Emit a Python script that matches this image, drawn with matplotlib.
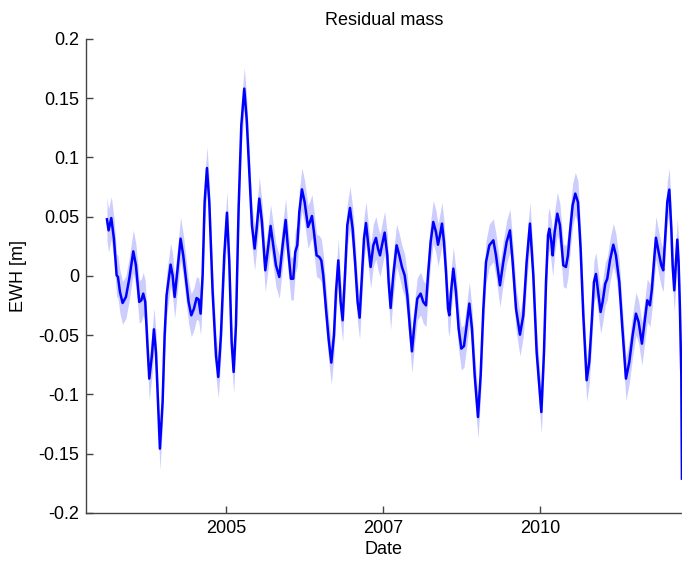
import matplotlib.pyplot as plt
import numpy as np

plt.rcParams['font.family'] = ['Liberation Sans', 'DejaVu Sans']

# residual mass series, decimal years and equivalent water height [m]
dates = [
    2003.108, 2003.134, 2003.177, 2003.219, 2003.262, 2003.283, 2003.315, 2003.357,
    2003.410, 2003.463, 2003.527, 2003.569, 2003.622, 2003.654, 2003.685, 2003.717,
    2003.749, 2003.781, 2003.823, 2003.855, 2003.887, 2003.919, 2003.950, 2003.993,
    2004.025, 2004.056, 2004.120, 2004.152, 2004.184, 2004.226, 2004.279, 2004.321,
    2004.364, 2004.406, 2004.449, 2004.491, 2004.533, 2004.565, 2004.597, 2004.629,
    2004.661, 2004.698, 2004.735, 2004.788, 2004.841, 2004.878, 2004.920, 2004.973,
    2005.016, 2005.053, 2005.090, 2005.122, 2005.159, 2005.201, 2005.244, 2005.291,
    2005.329, 2005.371, 2005.413, 2005.456, 2005.488, 2005.530, 2005.572, 2005.625,
    2005.668, 2005.710, 2005.752, 2005.795, 2005.848, 2005.901, 2005.949, 2005.986,
    2006.033, 2006.070, 2006.102, 2006.134, 2006.166, 2006.208, 2006.251, 2006.304,
    2006.335, 2006.367, 2006.399, 2006.441, 2006.484, 2006.516, 2006.547, 2006.590,
    2006.632, 2006.675, 2006.717, 2006.749, 2006.786, 2006.823, 2006.855, 2006.897,
    2006.929, 2006.972, 2007.014, 2007.056, 2007.093, 2007.125, 2007.162, 2007.194,
    2007.226, 2007.258, 2007.300, 2007.343, 2007.385, 2007.417, 2007.449, 2007.480,
    2007.523, 2007.565, 2007.586, 2007.618, 2007.660, 2007.713, 2007.756, 2007.798,
    2007.841, 2007.883, 2007.925, 2007.957, 2008.000, 2008.042, 2008.095, 2008.137,
    2008.180, 2008.212, 2008.254, 2008.296, 2008.339, 2008.371, 2008.402, 2008.434,
    2008.466, 2008.498, 2008.530, 2008.551, 2008.583, 2008.615, 2008.657, 2008.699,
    2008.742, 2008.784, 2008.827, 2008.869, 2008.911, 2008.954, 2009.007, 2009.049,
    2009.092, 2009.134, 2009.187, 2009.251, 2009.293, 2009.356, 2009.409, 2009.462,
    2009.515, 2009.558, 2009.611, 2009.674, 2009.727, 2009.780, 2009.833, 2009.886,
    2009.939, 2010.014, 2010.056, 2010.088, 2010.120, 2010.141, 2010.173, 2010.194,
    2010.226, 2010.268, 2010.310, 2010.363, 2010.405, 2010.437, 2010.469, 2010.511,
    2010.553, 2010.596, 2010.638, 2010.681, 2010.734, 2010.776, 2010.818, 2010.850,
    2010.882, 2010.924, 2010.956, 2010.988, 2011.030, 2011.062, 2011.105, 2011.158,
    2011.200, 2011.253, 2011.295, 2011.359, 2011.412, 2011.465, 2011.518, 2011.560,
    2011.613, 2011.656, 2011.698, 2011.740, 2011.772, 2011.804, 2011.836, 2011.878,
    2011.921, 2011.952, 2011.984, 2012.016, 2012.048, 2012.080, 2012.101, 2012.127,
    2012.154, 2012.175, 2012.196, 2012.217, 2012.239, 2012.249,
]
ewh = [
    0.0478, 0.0385, 0.0489, 0.0315, 0.0006, -0.0008, -0.0135, -0.0228,
    -0.0177, -0.0023, 0.0208, 0.0090, -0.0219, -0.0205, -0.0149, -0.0219,
    -0.0557, -0.0866, -0.0669, -0.0450, -0.0641, -0.1063, -0.1457, -0.1063,
    -0.0501, -0.0163, 0.0096, 0.0006, -0.0177, 0.0034, 0.0315, 0.0174,
    -0.0023, -0.0219, -0.0332, -0.0276, -0.0186, -0.0197, -0.0318, 0.0006,
    0.0624, 0.0911, 0.0624, -0.0135, -0.0669, -0.0852, -0.0501, 0.0174,
    0.0534, 0.0118, -0.0557, -0.0810, -0.0416, 0.0568, 0.1271, 0.1581,
    0.1328, 0.0878, 0.0428, 0.0231, 0.0399, 0.0653, 0.0456, 0.0048,
    0.0231, 0.0422, 0.0259, 0.0090, -0.0008, 0.0259, 0.0473, 0.0231,
    -0.0023, -0.0023, 0.0203, 0.0259, 0.0540, 0.0731, 0.0624, 0.0414,
    0.0456, 0.0506, 0.0371, 0.0174, 0.0160, 0.0132, 0.0006, -0.0276,
    -0.0529, -0.0731, -0.0501, -0.0135, 0.0132, -0.0219, -0.0374, 0.0062,
    0.0428, 0.0574, 0.0399, 0.0090, -0.0219, -0.0352, 0.0006, 0.0315,
    0.0447, 0.0287, 0.0076, 0.0259, 0.0321, 0.0231, 0.0174, 0.0259,
    0.0366, 0.0174, -0.0051, -0.0270, 0.0006, 0.0259, 0.0174, 0.0076,
    0.0006, -0.0163, -0.0444, -0.0636, -0.0388, -0.0191, -0.0149, -0.0219,
    -0.0248, 0.0006, 0.0287, 0.0456, 0.0371, 0.0264, 0.0343, 0.0442,
    0.0287, 0.0034, -0.0276, -0.0332, -0.0107, 0.0062, -0.0135, -0.0444,
    -0.0613, -0.0591, -0.0416, -0.0233, -0.0444, -0.0838, -0.1190, -0.0838,
    -0.0276, 0.0118, 0.0259, 0.0301, 0.0174, -0.0079, 0.0118, 0.0287,
    0.0385, 0.0118, -0.0276, -0.0495, -0.0332, 0.0118, 0.0442, 0.0006,
    -0.0641, -0.1148, -0.0641, -0.0051, 0.0343, 0.0399, 0.0287, 0.0174,
    0.0371, 0.0526, 0.0428, 0.0090, 0.0076, 0.0174, 0.0371, 0.0596,
    0.0695, 0.0624, 0.0231, -0.0332, -0.0880, -0.0726, -0.0360, -0.0051,
    0.0017, -0.0163, -0.0304, -0.0219, -0.0065, -0.0023, 0.0132, 0.0264,
    0.0174, -0.0051, -0.0388, -0.0866, -0.0726, -0.0501, -0.0318, -0.0388,
    -0.0571, -0.0388, -0.0205, -0.0248, -0.0107, 0.0118, 0.0323, 0.0203,
    0.0090, 0.0048, 0.0343, 0.0624, 0.0729, 0.0399, 0.0090, -0.0121,
    0.0118, 0.0307, 0.0118, -0.0276, -0.0838, -0.1710,
]
ewh_sigma = 0.018  # half width of the shaded uncertainty band

x_ticks = [2005, 2007.5, 2010]
x_tick_labels = ['2005', '2007', '2010']
y_ticks = [-0.2, -0.15, -0.1, -0.05, 0, 0.05, 0.1, 0.15, 0.2]
y_tick_labels = ['-0.2', '-0.15', '-0.1', '-0.05', '0', '0.05', '0.1', '0.15', '0.2']

t = np.array(dates)
y = np.array(ewh)

fig = plt.figure(figsize=(6.82, 5.61), dpi=100)
ax = fig.add_axes([0.126, 0.0856, 0.874, 0.8449])

ax.fill_between(t, y - ewh_sigma, y + ewh_sigma, color='#ccccff', linewidth=0)
ax.plot(t, y, color='#0000ff', linewidth=1.8, solid_joinstyle='round')

ax.set_xlim(2002.774, 2012.25)
ax.set_ylim(-0.2, 0.2)
ax.set_xticks(x_ticks)
ax.set_xticklabels(x_tick_labels)
ax.set_yticks(y_ticks)
ax.set_yticklabels(y_tick_labels)

# matlab-ish look: no box, ticks pointing in
for side in ['top', 'right']:
    ax.spines[side].set_visible(False)
for side in ['left', 'bottom']:
    ax.spines[side].set_color('#444444')
    ax.spines[side].set_linewidth(1.0)
ax.tick_params(direction='in', length=5, width=1, color='#444444', labelsize=13, pad=5)

ax.set_title('Residual mass', fontsize=13, pad=10)
ax.set_xlabel('Date', fontsize=13, labelpad=3)
ax.set_ylabel('EWH [m]', fontsize=13, labelpad=8)

fig.savefig('out.png', dpi=100)
